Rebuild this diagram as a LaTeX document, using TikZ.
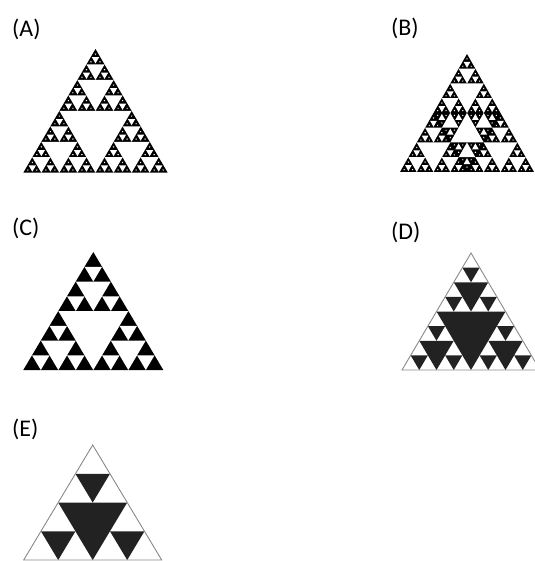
\documentclass[tikz,border=0pt]{standalone}
\usepackage{fontspec}
\setmainfont{Carlito}
\definecolor{dk}{HTML}{222222}
\definecolor{edgegray}{HTML}{8A8A8A}
\tikzset{
  lbl/.style={anchor=west, inner sep=0pt, font=\fontsize{24}{26}\selectfont},
  holefill/.style={fill=white},
}
\def\lastshrink{1}
\def\penshrink{1}
% upright gasket holes: apex x, apex y, base width, height, depth
\newcommand\upholes[5]{%
  \ifnum#5>0\relax
  \begingroup
  \pgfmathsetmacro\hx{#1}%
  \pgfmathsetmacro\hy{#2}%
  \pgfmathsetmacro\hw{(#3)/2}%
  \pgfmathsetmacro\hh{(#4)/2}%
  \pgfmathtruncatemacro\nd{#5-1}%
  \ifcase\nd\relax
    \pgfmathsetmacro\sk{\lastshrink}%
  \or
    \pgfmathsetmacro\sk{\penshrink}%
  \else
    \def\sk{1}%
  \fi
  \pgfmathsetmacro\cy{\hy+4*\hh/3}%
  \fill[holefill] (\hx-\sk*\hw/2,\cy-\sk*\hh/3) -- (\hx+\sk*\hw/2,\cy-\sk*\hh/3) -- (\hx,\cy+\sk*2*\hh/3) -- cycle;
  \upholes{\hx}{\hy}{\hw}{\hh}{\nd}%
  \upholes{\hx-\hw/2}{\hy+\hh}{\hw}{\hh}{\nd}%
  \upholes{\hx+\hw/2}{\hy+\hh}{\hw}{\hh}{\nd}%
  \endgroup
  \fi}
% inverted gasket holes: top-centre x, top y, width, height, depth
\newcommand\downholes[5]{%
  \ifnum#5>0\relax
  \begingroup
  \pgfmathsetmacro\dx{#1}%
  \pgfmathsetmacro\dy{#2}%
  \pgfmathsetmacro\dw{(#3)/2}%
  \pgfmathsetmacro\dh{(#4)/2}%
  \pgfmathtruncatemacro\dn{#5-1}%
  \ifcase\dn\relax
    \pgfmathsetmacro\sk{\lastshrink}%
  \or
    \pgfmathsetmacro\sk{\penshrink}%
  \else
    \def\sk{1}%
  \fi
  \pgfmathsetmacro\cy{\dy+2*\dh/3}%
  \fill[white] (\dx,\cy-\sk*2*\dh/3) -- (\dx-\sk*\dw/2,\cy+\sk*\dh/3) -- (\dx+\sk*\dw/2,\cy+\sk*\dh/3) -- cycle;
  \downholes{\dx-\dw/2}{\dy}{\dw}{\dh}{\dn}%
  \downholes{\dx+\dw/2}{\dy}{\dw}{\dh}{\dn}%
  \downholes{\dx}{\dy+\dh}{\dw}{\dh}{\dn}%
  \endgroup
  \fi}
\begin{document}
\begin{tikzpicture}[x=1bp,y=-1bp]
\useasboundingbox (0,0) rectangle (535,561);
\clip (0,0) rectangle (535,561);

% labels
\node[lbl] (lA) at (12,29) {(A)};
\node[lbl] (lB) at (391,28) {(B)};
\node[lbl] (lC) at (12,228) {(C)};
\node[lbl] (lD) at (391,232) {(D)};
\node[lbl] (lE) at (12,429) {(E)};

% (A) depth-5 gasket, finest holes shrunk (blurred original)
\def\lastshrink{0.35}
\def\penshrink{0.8}
\fill[black] (95.5,49) -- (167.7,172.7) -- (23.3,172.7) -- cycle;
\upholes{95.5}{49}{144.4}{123.7}{5}

% (B) gasket whose central hole is filled with an inverted gasket
\fill[black] (467,54) -- (534,172) -- (400,172) -- cycle;
\upholes{467}{54}{67}{59}{4}
\upholes{433.5}{113}{67}{59}{4}
\upholes{500.5}{113}{67}{59}{4}
\downholes{467}{113}{67}{59}{4}

% (C) depth-3 gasket
\def\lastshrink{1}
\def\penshrink{1}
\fill[black] (93.3,252) -- (163.3,370) -- (23.3,370) -- cycle;
\upholes{93.3}{252}{140}{118}{3}

% (D) white triangle with dark removed triangles, depth 3
\tikzset{holefill/.style={fill=dk}}
\fill[white] (471,253) -- (540,370) -- (402,370) -- cycle;
\upholes{471}{253}{138}{117}{3}
\draw[edgegray, line width=0.9bp, line join=miter] (471,253) -- (540,370) -- (402,370) -- cycle;

% (E) depth 2, cut off at the bottom
\fill[white] (92.7,445) -- (161.7,560) -- (23.7,560) -- cycle;
\upholes{92.7}{445}{138}{115}{2}
\draw[edgegray, line width=0.9bp, line join=miter] (92.7,445) -- (161.7,560) -- (23.7,560) -- cycle;
\end{tikzpicture}
\end{document}
